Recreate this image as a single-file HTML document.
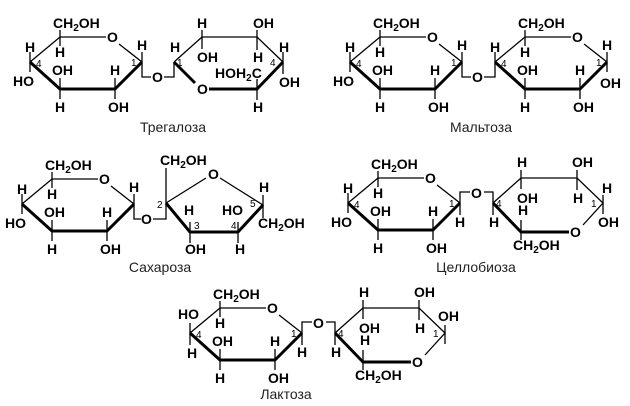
<!DOCTYPE html>
<html><head><meta charset="utf-8"><style>
html,body{margin:0;padding:0;background:#fff;}
svg{display:block}
.t{fill:none;stroke:#000;stroke-width:1.3}
.k{fill:none;stroke:#000;stroke-width:3;stroke-linejoin:round}
text{font-family:"Liberation Sans",Arial,sans-serif;font-weight:bold;font-size:14px;fill:#000}
text.n{font-weight:normal;font-size:10px}
text.l{font-weight:normal;font-size:14px;fill:#222}
tspan.s{font-size:10px}
</style></head><body>
<svg width="630" height="406" viewBox="0 0 630 406" xmlns="http://www.w3.org/2000/svg">

<!-- Трегалоза -->
<g>
<path class="t" d="M30,62 L60,37 L106,37 M119,44 L142,62"/>
<path class="k" d="M142,62 L115,89 L60,89 L30,62"/>
<path class="t" d="M60,37 V30 M60,37 V46 M60,89 V78 M60,89 V99 M115,89 V78 M115,89 V99 M30,62 V52 M30,62 V72 M142,62 V52 M142,62 V77 H151 M164,77 H174 V62"/>
<text x="53" y="28">CH<tspan class="s" dy="3">2</tspan><tspan dy="-3">OH</tspan></text>
<text x="107" y="42">O</text>
<text x="55" y="57">H</text><text x="25" y="52">H</text><text x="13" y="86">HO</text>
<text x="52" y="75">OH</text><text x="55" y="112">H</text>
<text x="110" y="75">H</text><text x="108" y="112">OH</text>
<text x="137" y="50">H</text>
<text class="n" x="36" y="67">4</text><text class="n" x="131" y="66">1</text>
<text x="152" y="82">O</text>
<path class="t" d="M174,62 L202,37 L257,37 L283,62"/>
<path class="k" d="M283,62 L257,89 L209,89 M195,83 L174,62"/>
<path class="t" d="M202,37 V30 M202,37 V49 M257,37 V30 M257,37 V50 M283,62 V52 M283,62 V74 M257,89 V79 M257,89 V100"/>
<text x="197" y="94">O</text>
<text x="197" y="28">H</text><text x="197" y="62">OH</text>
<text x="253" y="28">OH</text><text x="253" y="62">H</text>
<text x="170" y="52">H</text><text class="n" x="177" y="66">1</text>
<text class="n" x="270" y="66">4</text><text x="279" y="52">H</text><text x="279" y="87">OH</text>
<text x="215" y="78">HOH<tspan class="s" dy="3">2</tspan><tspan dy="-3">C</tspan></text>
<text x="253" y="112">H</text>
<text class="l" x="173" y="132" text-anchor="middle">Трегалоза</text>
</g>

<!-- Мальтоза -->
<g transform="translate(320,0)">
<path class="t" d="M30,62 L60,37 L106,37 M119,44 L142,62"/>
<path class="k" d="M142,62 L115,89 L60,89 L30,62"/>
<path class="t" d="M60,37 V30 M60,37 V46 M60,89 V78 M60,89 V99 M115,89 V78 M115,89 V99 M30,62 V52 M30,62 V72 M142,62 V52 M142,62 V77 H151 M164,77 H175 V62"/>
<text x="53" y="28">CH<tspan class="s" dy="3">2</tspan><tspan dy="-3">OH</tspan></text>
<text x="107" y="42">O</text>
<text x="55" y="57">H</text><text x="25" y="52">H</text><text x="13" y="86">HO</text>
<text x="52" y="75">OH</text><text x="55" y="112">H</text>
<text x="110" y="75">H</text><text x="108" y="112">OH</text>
<text x="137" y="50">H</text>
<text class="n" x="36" y="67">4</text><text class="n" x="131" y="66">1</text>
<text x="152" y="82">O</text>
<g transform="translate(145,0)">
<path class="t" d="M30,62 L60,37 L106,37 M119,44 L142,62"/>
<path class="k" d="M142,62 L115,89 L60,89 L30,62"/>
<path class="t" d="M60,37 V30 M60,37 V46 M60,89 V78 M60,89 V99 M115,89 V78 M115,89 V99 M30,62 V52 M142,62 V52 M142,62 V72"/>
<text x="53" y="28">CH<tspan class="s" dy="3">2</tspan><tspan dy="-3">OH</tspan></text>
<text x="107" y="42">O</text>
<text x="55" y="57">H</text><text x="25" y="52">H</text>
<text x="52" y="75">OH</text><text x="55" y="112">H</text>
<text x="110" y="75">H</text><text x="108" y="112">OH</text>
<text x="137" y="50">H</text><text x="135" y="88">OH</text>
<text class="n" x="36" y="67">4</text><text class="n" x="131" y="66">1</text>
</g>
<text class="l" x="161" y="132" text-anchor="middle">Мальтоза</text>
</g>

<!-- Сахароза -->
<g transform="translate(-8,142)">
<path class="t" d="M30,62 L60,37 L106,37 M119,44 L142,62"/>
<path class="k" d="M142,62 L115,89 L60,89 L30,62"/>
<path class="t" d="M60,37 V30 M60,37 V46 M60,89 V78 M60,89 V99 M115,89 V78 M115,89 V99 M30,62 V52 M30,62 V72 M142,62 V52"/>
<text x="53" y="28">CH<tspan class="s" dy="3">2</tspan><tspan dy="-3">OH</tspan></text>
<text x="107" y="42">O</text>
<text x="55" y="57">H</text><text x="25" y="52">H</text><text x="13" y="86">HO</text>
<text x="52" y="75">OH</text><text x="55" y="112">H</text>
<text x="110" y="75">H</text><text x="108" y="112">OH</text>
<text x="137" y="50">H</text>
</g>
<path class="t" d="M134,204 V219 H141 M153,219 H166 V203"/>
<text x="141" y="224">O</text>
<path class="t" d="M166,203 L206,178 M220,178 L263,205"/>
<path class="k" d="M263,205 L238,232 L190,232 L166,203"/>
<path class="t" d="M166,203 V168 M190,232 V222 M190,232 V243 M238,232 V222 M238,232 V243 M263,205 V195 M263,205 V218"/>
<text x="208" y="179">O</text>
<text x="160" y="165">CH<tspan class="s" dy="3">2</tspan><tspan dy="-3">OH</tspan></text>
<text class="n" x="157" y="208">2</text>
<text x="184" y="215">H</text><text class="n" x="194" y="229">3</text><text x="185" y="254">OH</text>
<text x="222" y="215">HO</text><text class="n" x="231" y="229">4</text><text x="235" y="254">H</text>
<text x="259" y="192">H</text><text class="n" x="250" y="207">5</text>
<text x="258" y="228">CH<tspan class="s" dy="3">2</tspan><tspan dy="-3">OH</tspan></text>
<text class="l" x="160" y="272" text-anchor="middle">Сахароза</text>

<!-- Целлобиоза -->
<g transform="translate(318,141)">
<path class="t" d="M30,62 L60,37 L106,37 M119,44 L142,62"/>
<path class="k" d="M142,62 L115,89 L60,89 L30,62"/>
<path class="t" d="M60,37 V30 M60,37 V46 M60,89 V78 M60,89 V99 M115,89 V78 M115,89 V99 M30,62 V52 M30,62 V72 M142,62 V74"/>
<text x="53" y="28">CH<tspan class="s" dy="3">2</tspan><tspan dy="-3">OH</tspan></text>
<text x="107" y="42">O</text>
<text x="55" y="57">H</text><text x="25" y="52">H</text><text x="13" y="86">HO</text>
<text x="52" y="75">OH</text><text x="55" y="112">H</text>
<text x="110" y="75">H</text><text x="108" y="112">OH</text>
<text class="n" x="36" y="67">4</text><text class="n" x="131" y="66">1</text>
</g>
<g>
<path class="t" d="M460,203 V192 H470 M484,192 H493 V203"/>
<text x="471" y="198">O</text>
<text x="455" y="227">H</text>
<path class="t" d="M493,203 L521,178 L577,178 L603,203 L583,225"/>
<path class="k" d="M569,232 L521,232 L493,203"/>
<path class="t" d="M521,178 V170 M521,178 V189 M577,178 V170 M577,178 V190 M603,203 V195 M603,203 V214 M493,203 V215 M521,232 V220 M521,232 V240"/>
<text x="570" y="237">O</text>
<text x="517" y="167">H</text><text x="517" y="203">OH</text>
<text x="572" y="167">OH</text><text x="573" y="203">H</text>
<text x="602" y="193">H</text><text class="n" x="591" y="207">1</text><text x="598" y="227">OH</text>
<text class="n" x="496" y="207">4</text><text x="489" y="227">H</text>
<text x="518" y="215">H</text>
<text x="513" y="250">CH<tspan class="s" dy="3">2</tspan><tspan dy="-3">OH</tspan></text>
</g>
<text class="l" x="476" y="272" text-anchor="middle">Целлобиоза</text>

<!-- Лактоза -->
<g transform="translate(160,271)">
<path class="t" d="M30,62 L60,37 L106,37 M119,44 L142,62"/>
<path class="k" d="M142,62 L115,89 L60,89 L30,62"/>
<path class="t" d="M60,37 V30 M60,37 V46 M60,89 V78 M60,89 V99 M115,89 V78 M115,89 V99 M30,62 V52 M30,62 V74 M142,62 V74"/>
<text x="53" y="28">CH<tspan class="s" dy="3">2</tspan><tspan dy="-3">OH</tspan></text>
<text x="107" y="42">O</text>
<text x="55" y="57">H</text><text x="18" y="48">HO</text><text x="27" y="87">H</text>
<text x="52" y="75">OH</text><text x="55" y="112">H</text>
<text x="110" y="75">H</text><text x="108" y="112">OH</text>
<text class="n" x="36" y="67">4</text><text class="n" x="131" y="66">1</text>
</g>
<g transform="translate(-158,130)">
<path class="t" d="M460,203 V192 H470 M484,192 H493 V203"/>
<text x="471" y="198">O</text>
<text x="455" y="227">H</text>
<path class="t" d="M493,203 L521,178 L577,178 L603,203 L583,225"/>
<path class="k" d="M569,232 L521,232 L493,203"/>
<path class="t" d="M521,178 V170 M521,178 V189 M577,178 V170 M577,178 V190 M603,203 V195 M603,203 V214 M493,203 V215 M521,232 V220 M521,232 V240"/>
<text x="570" y="237">O</text>
<text x="517" y="167">H</text><text x="517" y="203">OH</text>
<text x="572" y="167">OH</text><text x="573" y="203">H</text>
<text x="596" y="191">OH</text><text class="n" x="591" y="207">1</text>
<text class="n" x="496" y="207">4</text><text x="489" y="227">H</text>
<text x="518" y="215">H</text>
<text x="513" y="250">CH<tspan class="s" dy="3">2</tspan><tspan dy="-3">OH</tspan></text>
</g>
<text class="l" x="286" y="399" text-anchor="middle">Лактоза</text>
</svg>
</body></html>
